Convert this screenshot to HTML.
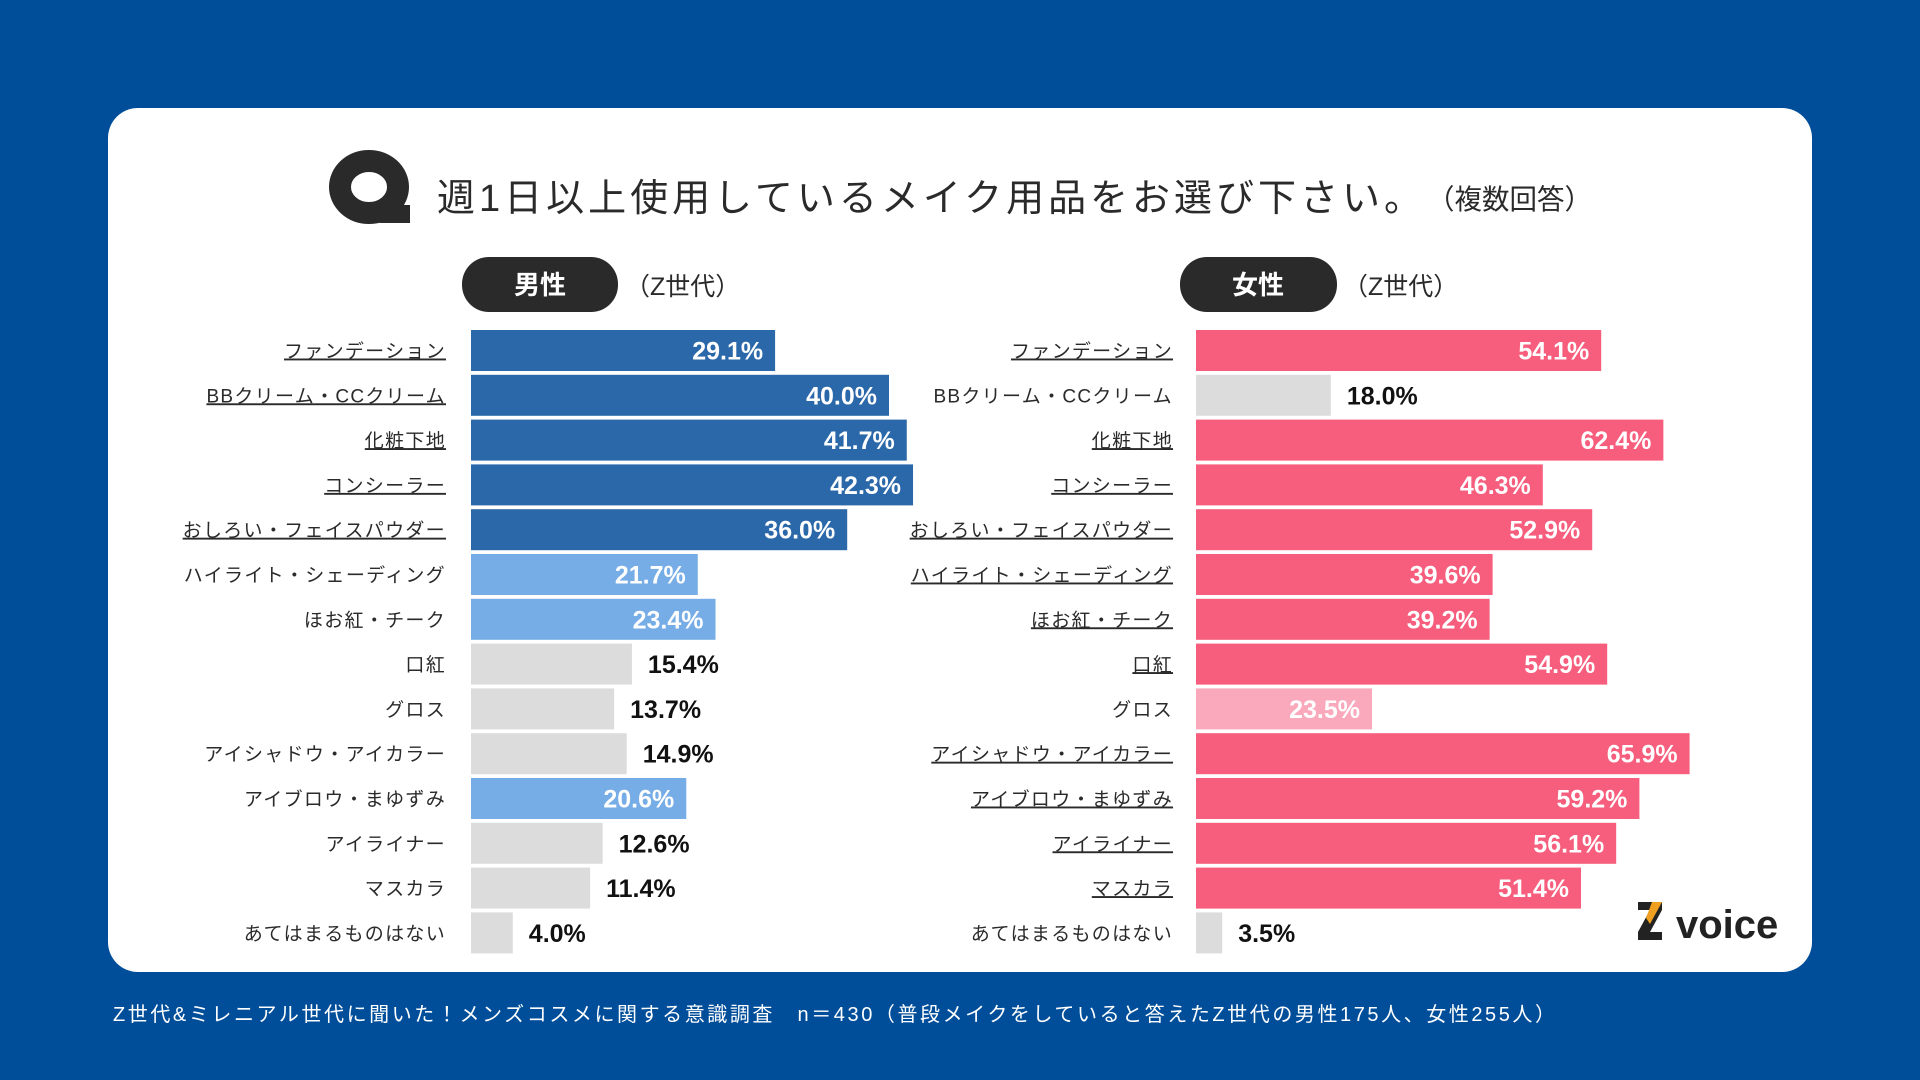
<!DOCTYPE html>
<html><head><meta charset="utf-8"><style>
html,body{margin:0;padding:0;background:#004e9a;}
svg{display:block;font-family:"Liberation Sans","Noto Sans CJK JP",sans-serif;}
</style></head><body>
<svg id="chart" width="1920" height="1080" viewBox="0 0 1920 1080">
<rect x="0" y="0" width="1920" height="1080" fill="#004e9a"/>
<rect x="108" y="108" width="1704" height="864" rx="30" fill="#fff"/>
<g>
<ellipse cx="369" cy="187" rx="29" ry="26" fill="none" stroke="#2a2a2a" stroke-width="22"/>
<rect x="380" y="205" width="30" height="18" fill="#2a2a2a"/>
</g>
<text x="437" y="211" font-size="38" fill="#2a2a2a" textLength="985" lengthAdjust="spacing">週1日以上使用しているメイク用品をお選び下さい。</text>
<text x="1427" y="209" font-size="28" fill="#2a2a2a" textLength="165" lengthAdjust="spacingAndGlyphs">（複数回答）</text>
<rect x="462" y="257" width="156" height="55" rx="27" fill="#2a2a2a"/>
<text x="540" y="294" font-size="26" font-weight="bold" fill="#fff" text-anchor="middle">男性</text>
<text x="625" y="295" font-size="25" fill="#2a2a2a">（Z世代）</text>
<rect x="1180" y="257" width="157" height="55" rx="27" fill="#2a2a2a"/>
<text x="1258" y="294" font-size="26" font-weight="bold" fill="#fff" text-anchor="middle">女性</text>
<text x="1343" y="295" font-size="25" fill="#2a2a2a">（Z世代）</text>
<g id="bars"></g>
<g>
<polygon points="1638,902 1662,902 1662,910 1650,932 1662,932 1662,940 1638,940 1638,932 1650,910 1638,910" fill="#222"/>
<polygon points="1652,902 1662,902 1650,924 1646,918" fill="#f0a020"/>
<text x="1676" y="938" font-size="40" font-weight="bold" fill="#222">voice</text>
</g>
<text x="113" y="1021" font-size="20" fill="#fff" textLength="1442" lengthAdjust="spacing">Z世代&amp;ミレニアル世代に聞いた！メンズコスメに関する意識調査　n＝430（普段メイクをしていると答えたZ世代の男性175人、女性255人）</text>
</svg>
<script>
const categories=["ファンデーション","BBクリーム・CCクリーム","化粧下地","コンシーラー","おしろい・フェイスパウダー","ハイライト・シェーディング","ほお紅・チーク","口紅","グロス","アイシャドウ・アイカラー","アイブロウ・まゆずみ","アイライナー","マスカラ","あてはまるものはない"];
const maleValues=[29.1,40.0,41.7,42.3,36.0,21.7,23.4,15.4,13.7,14.9,20.6,12.6,11.4,4.0];
const femaleValues=[54.1,18.0,62.4,46.3,52.9,39.6,39.2,54.9,23.5,65.9,59.2,56.1,51.4,3.5];
const maleTier=[2,2,2,2,2,1,1,0,0,0,1,0,0,0];
const femaleTier=[2,0,2,2,2,2,2,2,1,2,2,2,2,0];
const maleColors=["#dcdcdc","#77ade6","#2b68aa"];
const femaleColors=["#dcdcdc","#f9a9bb","#f75d7c"];
const NS="http://www.w3.org/2000/svg";
const g=document.getElementById('bars');
const rowY=i=>330+i*44.8;
const barH=41;
function mk(tag,attrs){const e=document.createElementNS(NS,tag);for(const k in attrs)e.setAttribute(k,attrs[k]);return e;}
function panel(vals,tiers,colors,x0,scale,labelX,side){
  vals.forEach((v,i)=>{
    const y=rowY(i),w=v*scale,cy=y+barH/2;
    const r=mk('rect',{x:x0,y:y,width:w,height:barH,fill:colors[tiers[i]]});
    
    
    g.appendChild(r);
    const lab=mk('text',{x:labelX,y:cy+7,'font-size':19,fill:'#2a2a2a','text-anchor':'end','letter-spacing':1.3});
    if(tiers[i]===2)lab.setAttribute('text-decoration','underline');
    lab.textContent=categories[i];
    
    
    g.appendChild(lab);
    const inside=tiers[i]!==0;
    const t=mk('text',{x:inside?x0+w-12:x0+w+16,y:cy+9,'font-size':25,'font-weight':'bold',fill:inside?'#fff':'#111','text-anchor':inside?'end':'start'});
    t.textContent=v.toFixed(1)+'%';
    
    
    g.appendChild(t);
  });
}
panel(maleValues,maleTier,maleColors,471,10.45,446,'male');
panel(femaleValues,femaleTier,femaleColors,1196,7.49,1173,'female');
</script>
</body></html>
